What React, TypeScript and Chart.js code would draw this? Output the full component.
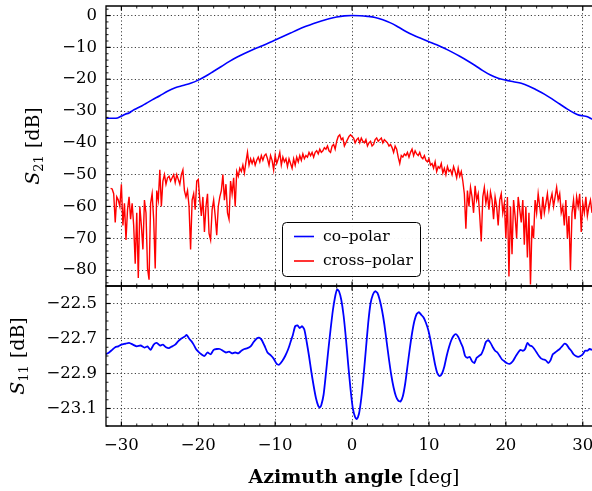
import React, { useEffect, useRef } from "react";
import { Chart, registerables } from "chart.js";

Chart.register(...registerables);

// ---------- data ----------
const X_MIN = -32;
const X_MAX = 31.2;
const X_MAJOR = [-30, -20, -10, 0, 10, 20, 30];

const S21_MIN = -85;
const S21_MAX = 3;
const S21_TICKS = [-80, -70, -60, -50, -40, -30, -20, -10, 0];

const S11_MIN = -23.2;
const S11_MAX = -22.4;
const S11_TICKS = [-23.1, -22.9, -22.7, -22.5];

const SERIES_LABELS = ["co\u2013polar", "cross\u2013polar"];

const CO_ANGLES = [
  -32, -31.5, -31, -30.5, -30, -29.5, -29, -28.5, -28, -27.5, -27,
  -26, -25, -24, -23, -22, -21, -20, -19, -18, -17, -16, -15, -14, -13, -12,
  -11, -10, -9, -8, -7, -6, -5, -4, -3, -2, -1, 0, 1, 2, 3, 4, 5, 6, 7, 8, 9,
  10, 11, 12, 13, 14, 15, 16, 17, 18, 19, 20, 21, 22, 23, 24, 25, 26, 27, 28,
  29, 29.5, 30, 30.5, 31, 31.2,
];
const CO_VALUES = [
  -32.2, -32.3, -32.3, -32.2, -31.6, -31.0, -30.6, -29.8, -29.2, -28.6, -27.9,
  -26.5, -25.2, -23.8, -22.7, -22.0, -21.3, -20.3, -19.0, -17.5, -16.0, -14.5,
  -13.1, -11.9, -10.8, -9.8, -8.8, -7.7, -6.6, -5.5, -4.4, -3.4, -2.5, -1.7,
  -1.0, -0.45, -0.1, 0, -0.05, -0.25, -0.6, -1.3, -2.3, -3.6, -5.0, -6.2, -7.2,
  -8.2, -9.2, -10.3, -11.5, -12.8, -14.2, -15.7, -17.3, -18.7, -19.7, -20.3,
  -20.8, -21.3, -22.2, -23.4, -24.7, -26.2, -27.8, -29.4, -30.8, -31.3, -31.5,
  -31.7, -32.3, -32.6,
];

// cross-polar sampled every 0.2 deg starting at -31.4 deg
const CROSS_START = -31.4;
const CROSS_STEP = 0.2;
const CROSS_VALUES = [
  -54.3, -54.5, -56, -65, -57, -58, -60, -53, -66, -59,
  -70.5, -61, -57, -64, -59, -66, -78, -62, -82.5, -60,
  -66, -73.5, -58, -62, -79.5, -83, -59, -56, -64, -79.5,
  -55, -58, -48.5, -60, -52, -50, -53, -51, -50.5, -52,
  -51, -50, -52.5, -50, -51.5, -53, -50, -48.5, -55, -57,
  -55, -60, -73.5, -58, -56, -61, -52, -51.5, -58, -63,
  -57, -68, -60, -56, -68.5, -70.5, -61, -58, -63, -69,
  -60, -57, -55, -50, -58, -53, -62, -64, -52, -56,
  -51, -60, -49, -50.5, -48, -49, -47, -49.5, -46, -43,
  -47, -45, -46.5, -45, -47, -45.5, -44.5, -46, -44, -45.5,
  -44, -43.5, -45, -47, -44, -45.5, -48.5, -44, -46.5, -45,
  -43, -47, -44.5, -46, -45, -47.5, -45, -46.5, -48, -45,
  -47, -44.5, -46, -44, -45.5, -43.5, -45, -44, -44.5, -43,
  -44, -43, -44.5, -43, -42.5, -43.5, -42, -43, -42.5, -41.5,
  -42, -41, -42.5, -43, -41, -40.5, -42, -39.5, -38, -37.5,
  -39, -38.5, -41, -40, -39, -38, -37.5, -38, -38.5, -40,
  -39, -38.5, -40, -38.5, -39.5, -40, -39, -41, -40, -39.5,
  -41, -40.5, -39, -38.5, -39.5, -39, -38.5, -40, -39, -39.5,
  -40, -41, -40.5, -41.5, -43, -41, -42, -44.5, -46.5, -44,
  -44.5, -43.5, -44, -43, -44.5, -43, -42, -44, -42.5, -43.5,
  -44, -43, -44.5, -45, -44, -45.5, -46, -45, -47, -46.5,
  -48, -46, -49, -47.5, -48, -46.5, -49.5, -48, -50, -47.5,
  -49, -48.5, -50, -47.5, -49, -51, -48, -50.5, -49, -52,
  -56, -67, -55, -60, -54, -57, -62, -53.5, -58, -56,
  -63, -71, -57, -54, -59, -56, -61, -55.5, -58, -64,
  -57, -60, -66, -58, -56, -62, -59, -70, -57, -82,
  -60, -75, -58, -63, -70, -57, -61, -65, -58, -72,
  -60, -76, -62, -84.5, -66, -70, -58, -62, -56, -60,
  -64, -57, -62, -59, -56, -61, -58, -56, -60, -57,
  -54, -58, -56, -62, -60, -66, -58, -70, -63, -80,
  -62, -58, -64, -57, -60, -56, -68, -59, -62, -57,
  -63, -60, -58, -62,
];

const S11_ANGLES = [
  -32.0, -31.6, -31.2, -30.8, -30.4, -30.0, -29.5, -29.0, -28.5, -28.0, -27.5,
  -27.0, -26.6, -26.2, -25.8, -25.4, -25.0, -24.6, -24.2, -23.8, -23.4, -23.0,
  -22.6, -22.2, -21.8, -21.5, -21.2, -20.9, -20.6, -20.3, -20.0, -19.6, -19.2,
  -18.8, -18.4, -18.0, -17.6, -17.2, -16.8, -16.4, -16.0, -15.6, -15.2, -14.8,
  -14.4, -14.0, -13.6, -13.2, -12.8, -12.4, -12.1, -11.8, -11.4, -11.0, -10.6,
  -10.2, -9.8, -9.5, -9.1, -8.7, -8.3, -8.0, -7.7, -7.4, -7.1, -6.8, -6.5, -6.2,
  -5.9, -5.6, -5.3, -5.0, -4.7, -4.4, -4.2, -4.0, -3.7, -3.4, -3.1, -2.8, -2.5,
  -2.2, -1.95, -1.7, -1.4, -1.1, -0.8, -0.5, -0.2, 0.1, 0.4, 0.6, 0.9, 1.2, 1.5,
  1.8, 2.1, 2.4, 2.7, 3.0, 3.3, 3.6, 3.9, 4.2, 4.5, 4.8, 5.1, 5.4, 5.7, 6.0, 6.3,
  6.6, 6.9, 7.2, 7.5, 7.8, 8.1, 8.4, 8.7, 9.0, 9.3, 9.6, 9.9, 10.2, 10.5, 10.8,
  11.1, 11.4, 11.7, 12.0, 12.3, 12.6, 12.9, 13.2, 13.5, 13.8, 14.1, 14.4, 14.7,
  15.0, 15.3, 15.6, 15.9, 16.2, 16.5, 16.8, 17.1, 17.4, 17.7, 18.0, 18.3, 18.6,
  18.9, 19.2, 19.5, 19.8, 20.1, 20.5, 20.9, 21.3, 21.6, 21.9, 22.2, 22.5, 22.8,
  23.1, 23.4, 23.7, 24.0, 24.3, 24.6, 24.9, 25.2, 25.5, 25.8, 26.1, 26.4, 26.7,
  27.0, 27.3, 27.6, 27.9, 28.2, 28.5, 28.8, 29.1, 29.4, 29.7, 30.0, 30.3, 30.6,
  30.9, 31.2,
];
const S11_VALUES = [
  -22.79, -22.78, -22.765, -22.75, -22.745, -22.735, -22.73, -22.725, -22.735,
  -22.745, -22.74, -22.752, -22.745, -22.765, -22.735, -22.725, -22.74, -22.735,
  -22.75, -22.755, -22.745, -22.735, -22.715, -22.7, -22.69, -22.68, -22.7,
  -22.715, -22.735, -22.76, -22.775, -22.79, -22.8, -22.78, -22.79, -22.765,
  -22.76, -22.76, -22.77, -22.78, -22.775, -22.785, -22.78, -22.785, -22.77,
  -22.76, -22.755, -22.745, -22.72, -22.7, -22.695, -22.705, -22.74, -22.78,
  -22.795, -22.815, -22.845, -22.85, -22.83, -22.8, -22.76, -22.72, -22.68,
  -22.63, -22.625, -22.64, -22.63, -22.65, -22.72, -22.8, -22.89, -22.97,
  -23.04, -23.085, -23.095, -23.08, -23.02, -22.9, -22.77, -22.65, -22.54,
  -22.46, -22.42, -22.43, -22.48, -22.57, -22.7, -22.85, -22.99, -23.1, -23.15,
  -23.16, -23.13, -23.04, -22.91, -22.76, -22.61, -22.5, -22.45, -22.43, -22.44,
  -22.48, -22.54, -22.62, -22.72, -22.82, -22.91, -22.98, -23.03, -23.055,
  -23.06, -23.03, -22.96, -22.86, -22.76, -22.67, -22.6, -22.56, -22.55,
  -22.565, -22.58, -22.61, -22.65, -22.71, -22.78, -22.85, -22.9, -22.915,
  -22.9, -22.86, -22.8, -22.75, -22.71, -22.685, -22.675, -22.69, -22.72,
  -22.75, -22.8, -22.81, -22.805, -22.83, -22.84, -22.81, -22.8, -22.79,
  -22.76, -22.72, -22.71, -22.725, -22.75, -22.77, -22.78, -22.8, -22.82,
  -22.83, -22.84, -22.845, -22.83, -22.8, -22.78, -22.765, -22.77, -22.76,
  -22.725, -22.74, -22.745, -22.76, -22.78, -22.8, -22.815, -22.82, -22.825,
  -22.84, -22.825, -22.79, -22.78, -22.77, -22.76, -22.745, -22.73, -22.735,
  -22.755, -22.77, -22.79, -22.8, -22.805, -22.8, -22.79, -22.77, -22.77,
  -22.76, -22.765,
];

// ---------- styling ----------
const FONT = '"DejaVu Serif", serif';
const GRID_COLOR = "rgba(0,0,0,0.75)";
const DASH = [1.2, 2.4];
const BLUE = "#0000ff";
const RED = "#ff0000";

const minus = (v: number, digits = 0) =>
  v < 0 ? "\u2212" + Math.abs(v).toFixed(digits) : v.toFixed(digits);

type TickMark = { v: number; major: boolean };

function xTickMarks(): TickMark[] {
  const out: TickMark[] = [];
  for (let k = Math.ceil(X_MIN / 2); k * 2 <= X_MAX; k++) {
    const v = k * 2;
    out.push({ v, major: v % 10 === 0 });
  }
  return out;
}
function s21TickMarks(): TickMark[] {
  const out: TickMark[] = [];
  for (let k = Math.ceil(S21_MIN / 2); k * 2 <= S21_MAX; k++) {
    const v = k * 2;
    out.push({ v, major: v % 10 === 0 });
  }
  return out;
}
function s11TickMarks(): TickMark[] {
  const out: TickMark[] = [];
  for (let k = Math.ceil(S11_MIN / 0.05 - 1e-6); k * 0.05 <= S11_MAX + 1e-9; k++) {
    out.push({ v: k * 0.05, major: (((k + 450) % 4) + 4) % 4 === 0 });
  }
  return out;
}

function framePlugin(
  id: string,
  yMarks: () => TickMark[],
  yTitle: { sub: string; baseX: number; centerY: number },
  extras?: (chart: any) => void
) {
  return {
    id,
    afterDraw(chart: any) {
      const { ctx, chartArea } = chart;
      const { left, right, top, bottom } = chartArea;
      const xs = chart.scales.x;
      const ys = chart.scales.y;
      ctx.save();
      ctx.strokeStyle = "#000";
      // x ticks (top and bottom, inward)
      for (const t of xTickMarks()) {
        const px = xs.getPixelForValue(t.v);
        if (px <= left + 0.5 || px > right) continue;
        const len = t.major ? 4.5 : 2.5;
        ctx.lineWidth = t.major ? 1.2 : 0.9;
        ctx.beginPath();
        ctx.moveTo(px, top);
        ctx.lineTo(px, top + len);
        ctx.moveTo(px, bottom);
        ctx.lineTo(px, bottom - len);
        ctx.stroke();
      }
      // y ticks (left, inward)
      for (const t of yMarks()) {
        const py = ys.getPixelForValue(t.v);
        if (py < top - 0.5 || py > bottom + 0.5) continue;
        const len = t.major ? 4.5 : 2.5;
        ctx.lineWidth = t.major ? 1.2 : 0.9;
        ctx.beginPath();
        ctx.moveTo(left, py);
        ctx.lineTo(left + len, py);
        ctx.stroke();
      }
      // frame (left, top, bottom)
      ctx.lineWidth = 1.3;
      ctx.beginPath();
      ctx.moveTo(right + 2, top);
      ctx.lineTo(left, top);
      ctx.lineTo(left, bottom);
      ctx.lineTo(right + 2, bottom);
      ctx.stroke();

      // y title: italic S with subscript + " [dB]"
      ctx.fillStyle = "#000";
      ctx.translate(yTitle.baseX, yTitle.centerY);
      ctx.rotate(-Math.PI / 2);
      ctx.textBaseline = "alphabetic";
      ctx.textAlign = "left";
      const fMain = `italic 19px ${FONT}`;
      const fSub = `13px ${FONT}`;
      const fRest = `19px ${FONT}`;
      ctx.font = fMain;
      const wS = ctx.measureText("S").width;
      ctx.font = fSub;
      const wSub = ctx.measureText(yTitle.sub).width;
      ctx.font = fRest;
      const rest = " [dB]";
      const wRest = ctx.measureText(rest).width;
      const total = wS + wSub + 1 + wRest;
      let x0 = -total / 2;
      ctx.font = fMain;
      ctx.fillText("S", x0, 0);
      x0 += wS;
      ctx.font = fSub;
      ctx.fillText(yTitle.sub, x0, 4);
      x0 += wSub + 1;
      ctx.font = fRest;
      ctx.fillText(rest, x0, 0);
      ctx.restore();

      if (extras) extras(chart);
    },
  };
}

function drawLegend(chart: any) {
  const { ctx } = chart;
  const bx = 282.5, by = 222.5, bw = 138, bh = 54, r = 4;
  ctx.save();
  ctx.beginPath();
  ctx.moveTo(bx + r, by);
  ctx.lineTo(bx + bw - r, by);
  ctx.arcTo(bx + bw, by, bx + bw, by + r, r);
  ctx.lineTo(bx + bw, by + bh - r);
  ctx.arcTo(bx + bw, by + bh, bx + bw - r, by + bh, r);
  ctx.lineTo(bx + r, by + bh);
  ctx.arcTo(bx, by + bh, bx, by + bh - r, r);
  ctx.lineTo(bx, by + r);
  ctx.arcTo(bx, by, bx + r, by, r);
  ctx.closePath();
  ctx.fillStyle = "rgba(255,255,255,0.95)";
  ctx.fill();
  ctx.strokeStyle = "#000";
  ctx.lineWidth = 1;
  ctx.stroke();
  const rows = [236.5, 261];
  chart.data.datasets.forEach((ds: any, i: number) => {
    const y = rows[i];
    ctx.strokeStyle = ds.borderColor;
    ctx.lineWidth = 1.6;
    ctx.beginPath();
    ctx.moveTo(294, y);
    ctx.lineTo(314, y);
    ctx.stroke();
    ctx.fillStyle = "#000";
    ctx.font = `15.5px ${FONT}`;
    ctx.textBaseline = "middle";
    ctx.textAlign = "left";
    ctx.fillText(ds.label, 323, y);
  });
  ctx.restore();
}

function drawXTitle(chart: any) {
  const { ctx } = chart;
  ctx.save();
  ctx.fillStyle = "#000";
  ctx.textBaseline = "middle";
  ctx.textAlign = "left";
  const bold = `bold 19px ${FONT}`;
  const reg = `19px ${FONT}`;
  const a = "Azimuth angle";
  const b = " [deg]";
  ctx.font = bold;
  const wa = ctx.measureText(a).width;
  ctx.font = reg;
  const wb = ctx.measureText(b).width;
  const cx = 354;
  const cy = 478 - 284;
  let x0 = cx - (wa + wb) / 2;
  ctx.font = bold;
  ctx.fillText(a, x0, cy);
  ctx.font = reg;
  ctx.fillText(b, x0 + wa, cy);
  ctx.restore();
}

const gridOpts = {
  color: GRID_COLOR,
  lineWidth: 1,
  drawTicks: false,
  borderDash: DASH,
};
const borderOpts = { display: false, dash: DASH };

export default function App() {
  const topRef = useRef<HTMLCanvasElement>(null);
  const botRef = useRef<HTMLCanvasElement>(null);

  useEffect(() => {
    const coData = CO_ANGLES.map((a, i) => ({ x: a, y: CO_VALUES[i] }));
    const crossData = CROSS_VALUES.map((v, i) => ({
      x: CROSS_START + i * CROSS_STEP,
      y: v,
    }));
    const s11Data = S11_ANGLES.map((a, i) => ({ x: a, y: S11_VALUES[i] }));

    const xScaleBase = {
      type: "linear" as const,
      min: X_MIN,
      max: X_MAX,
      afterBuildTicks: (s: any) => {
        s.ticks = X_MAJOR.map((v) => ({ value: v }));
      },
      grid: gridOpts,
      border: borderOpts,
    };

    const top = new Chart(topRef.current!, {
      type: "line",
      data: {
        datasets: [
          {
            label: SERIES_LABELS[0],
            data: coData,
            borderColor: BLUE,
            borderWidth: 1.6,
            pointRadius: 0,
            cubicInterpolationMode: "monotone",
            fill: false,
          },
          {
            label: SERIES_LABELS[1],
            data: crossData,
            borderColor: RED,
            borderWidth: 1.4,
            pointRadius: 0,
            tension: 0,
            fill: false,
          },
        ],
      },
      options: {
        responsive: false,
        animation: false,
        devicePixelRatio: 1,
        layout: { padding: { top: 6, left: 0, right: 0, bottom: 0 } },
        plugins: { legend: { display: false }, tooltip: { enabled: false } },
        events: [],
        scales: {
          x: {
            ...xScaleBase,
            ticks: { display: false },
            afterFit: (s: any) => {
              s.height = 4;
              s.paddingLeft = 0;
              s.paddingRight = 0;
            },
          },
          y: {
            type: "linear",
            min: S21_MIN,
            max: S21_MAX,
            afterBuildTicks: (s: any) => {
              s.ticks = S21_TICKS.map((v) => ({ value: v }));
            },
            ticks: {
              autoSkip: false,
              padding: 9,
              color: "#000",
              font: { family: FONT, size: 16.5 },
              callback: (v: any) => minus(Number(v), 0),
            },
            grid: gridOpts,
            border: borderOpts,
            afterFit: (s: any) => {
              s.width = 106;
              s.paddingTop = 0;
              s.paddingBottom = 0;
            },
          },
        },
      } as any,
      plugins: [
        framePlugin("frameTop", s21TickMarks, { sub: "21", baseX: 39, centerY: 146 }, drawLegend),
      ],
    });

    const bot = new Chart(botRef.current!, {
      type: "line",
      data: {
        datasets: [
          {
            label: "S11",
            data: s11Data,
            borderColor: BLUE,
            borderWidth: 1.8,
            pointRadius: 0,
            tension: 0.2,
            fill: false,
          },
        ],
      },
      options: {
        responsive: false,
        animation: false,
        devicePixelRatio: 1,
        layout: { padding: { top: 2, left: 0, right: 0, bottom: 0 } },
        plugins: { legend: { display: false }, tooltip: { enabled: false } },
        events: [],
        scales: {
          x: {
            ...xScaleBase,
            ticks: {
              autoSkip: false,
              maxRotation: 0,
              padding: 10,
              color: "#000",
              font: { family: FONT, size: 16.5 },
              callback: (v: any) => minus(Number(v), 0),
            },
            afterFit: (s: any) => {
              s.height = 65;
              s.paddingLeft = 0;
              s.paddingRight = 0;
            },
          },
          y: {
            type: "linear",
            min: S11_MIN,
            max: S11_MAX,
            afterBuildTicks: (s: any) => {
              s.ticks = S11_TICKS.map((v) => ({ value: v }));
            },
            ticks: {
              autoSkip: false,
              padding: 9,
              color: "#000",
              font: { family: FONT, size: 16.5 },
              callback: (v: any) => minus(Number(v), 1),
            },
            grid: gridOpts,
            border: borderOpts,
            afterFit: (s: any) => {
              s.width = 106;
              s.paddingTop = 0;
              s.paddingBottom = 0;
            },
          },
        },
      } as any,
      plugins: [
        framePlugin("frameBot", s11TickMarks, { sub: "11", baseX: 24, centerY: 356 - 284 }, drawXTitle),
      ],
    });

    return () => {
      top.destroy();
      bot.destroy();
    };
  }, []);

  return (
    <div
      style={{
        position: "absolute",
        left: 0,
        top: 0,
        width: 592,
        height: 491,
        background: "#fff",
        overflow: "hidden",
      }}
    >
      <canvas
        ref={topRef}
        width={592}
        height={290}
        style={{ position: "absolute", left: 0, top: 0 }}
      />
      <canvas
        ref={botRef}
        width={592}
        height={207}
        style={{ position: "absolute", left: 0, top: 284 }}
      />
    </div>
  );
}
